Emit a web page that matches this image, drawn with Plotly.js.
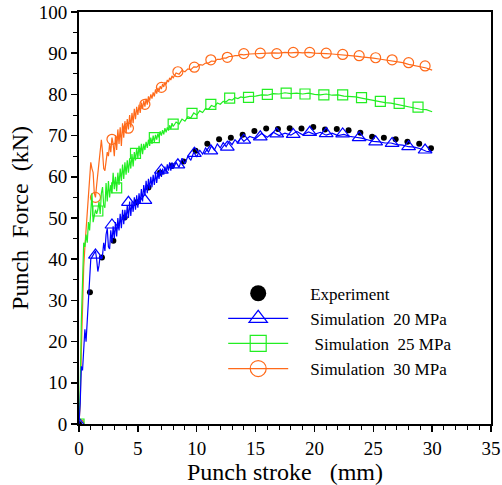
<!DOCTYPE html>
<html>
<head>
<meta charset="utf-8">
<script src="https://cdn.plot.ly/plotly-3.0.1.min.js"></script>
<style>html,body{margin:0;padding:0;background:#fff;}#chart{width:502px;height:485px;}</style>
</head>
<body>
<div id="chart"></div>
<script>
// Experiment (black dots)
var expX = [0, 0.93, 1.95, 2.92, 3.88, 4.9, 5.9, 6.88, 7.88, 8.88, 9.9, 10.9, 11.9, 12.9, 13.9, 14.9, 15.9, 16.9, 17.9, 18.9, 19.9, 20.9, 21.9, 22.9, 23.9, 24.9, 25.9, 26.9, 27.9, 28.9, 29.9];
var expY = [0, 32.0, 40.4, 44.5, 50.1, 53.8, 57.4, 61.0, 62.6, 63.7, 66.3, 68.0, 69.1, 69.5, 70.2, 71.1, 71.7, 71.6, 71.8, 71.7, 72.1, 71.5, 71.6, 71.3, 70.7, 69.7, 69.5, 69.1, 68.5, 68.0, 66.9];

// Simulation markers
var triX = [0, 1.4, 2.8, 4.2, 5.6, 7.0, 8.4, 9.8, 11.2, 12.6, 14.0, 15.4, 16.8, 18.2, 19.6, 21.0, 22.4, 23.8, 25.2, 26.6, 28.0, 29.4];
var triY = [0, 41.0, 48.3, 53.8, 54.3, 61.6, 62.9, 65.7, 66.3, 67.2, 68.9, 69.7, 70.4, 70.3, 70.8, 70.5, 70.4, 69.5, 68.5, 68.1, 67.3, 66.5];
var sqX = [0, 1.6, 3.2, 4.8, 6.4, 8.0, 9.6, 11.2, 12.8, 14.4, 16.0, 17.6, 19.2, 20.8, 22.4, 24.0, 25.6, 27.2, 28.8];
var sqY = [0, 51.7, 57.3, 65.7, 69.5, 72.8, 75.4, 77.6, 79.1, 79.3, 80.0, 80.3, 80.1, 79.9, 79.9, 79.2, 78.3, 77.8, 76.9];
var cirX = [0, 1.4, 2.8, 4.2, 5.6, 7.0, 8.4, 9.8, 11.2, 12.6, 14.0, 15.4, 16.8, 18.2, 19.6, 21.0, 22.4, 23.8, 25.2, 26.6, 28.0, 29.4];
var cirY = [0, 55.0, 69.1, 71.8, 77.6, 81.7, 85.5, 86.6, 88.4, 89.0, 89.9, 90.0, 89.9, 90.2, 90.2, 90.0, 89.7, 89.4, 88.9, 88.4, 87.7, 86.9];

// Simulation curves (shared stroke grid)
var strokeX = [0,0.1,0.2,0.3,0.4,0.5,0.6,0.7,0.8,0.9,1.0,1.1,1.2,1.3,1.4,1.5,1.6,1.7,1.8,1.9,
 2.0,2.1,2.2,2.3,2.4,2.5,2.6,2.7,2.8,2.9,3.0,3.1,3.2,3.3,3.4,3.5,3.6,3.7,3.8,3.9,
 4.0,4.1,4.2,4.3,4.4,4.5,4.6,4.7,4.8,4.9,5.0,5.1,5.2,5.3,5.4,5.5,5.6,5.7,5.8,5.9,
 6.0,6.1,6.2,6.3,6.4,6.5,6.6,6.7,6.8,6.9,7.0,7.1,7.2,7.3,7.4,7.5,7.6,7.7,7.8,7.9,8.0,
 8.25,8.5,8.75,9.0,9.25,9.5,9.75,10.0,10.25,10.5,10.75,11.0,11.25,11.5,11.75,12.0,12.25,12.5,12.75,13.0,13.25,13.5,13.75,14.0,
 14.5,15,15.5,16,16.5,17,17.5,18,18.5,19,19.5,20,20.5,21,21.5,22,22.5,23,23.5,24,24.5,25,25.5,26,26.5,27,27.5,28,28.5,29,29.5,30];
var sim20 = [0,5,14,13,18,23,20,25,31,33,40,40.5,41,41.5,42,40,37,38.5,41,40,
 41,44,42,46,47.5,43,42.5,47,44,48,45,49,45.5,50,47,51,47.5,52,48.5,52,
 49.5,53,50,54,50.5,54,51.5,55,52,55.5,52.5,56,53.5,57,54,58,55.5,59,56,59.5,
 57,60,57.5,60.5,58,61,58.5,61,59.5,62,60,62,60.5,62.5,61,63,61.5,63.5,61.5,63.5,62,
 63.5,62.3,64.5,63.2,65,64,66,64.8,66.5,65.5,67,66,67.5,66.5,68,67,68.3,67.3,68.6,67.8,69,68.2,69.5,68.6,
 69.8,69.3,70.5,69.6,70.8,70,70.6,70.1,71,70.2,70.9,70.3,70.8,70.1,70.6,70,70.3,69.8,69.6,69.4,69,68.6,68.5,68.2,68.2,67.8,67.7,67.3,67.2,66.8,66.2,66];
var sim25 = [0,8,25,36,44,43,46,44,49,47,53,56,49,51,52,51,52,54,51,56,
 57.5,53,52.5,58.5,54,59,55,58,56,61,57,60,56.5,61,58,62,59,63,59.5,63.5,
 60.5,64,61,64.5,62,65.5,62.5,66,64,67,64.5,67.5,65,68,65.5,68,66.5,68.5,67,69,
 67.5,69.5,68,70,68.5,70.2,69,70.5,69.5,71,70,71.3,70.3,71.8,70.8,72,71.2,72.5,71.6,73,72.2,
 73.3,72.8,74,73.5,74.6,74.3,75.5,75,76,75.6,76.6,76.4,77.3,77,77.9,77.6,78.3,78.2,78.8,78.6,79.2,79,79.4,79.2,
 79.5,79.6,79.9,79.8,80.2,80.1,80.4,80.2,80.3,80.1,80.3,80,79.9,80.1,79.8,79.9,79.6,79.5,79.4,79.1,78.8,78.6,78.2,78,77.9,77.6,77.3,77,76.8,76.4,76.3,75.8];
var sim30 = [0,5,18,30,38,43,47,52,54,60,63.5,62,61,56,55,58,61,64,66,69,
 66,62,61.5,64,66,65,68,66,69.5,68,65,70,66.5,71.5,68,72,67.5,73,69.5,73.5,
 70.5,74,71.5,75,72,75.5,73,76.5,74,77,75,77.5,75.5,78,76.5,78.5,77,79,77.5,79.5,
 78.5,80,79,80.5,79.5,81.2,80.2,81.6,80.8,82,81.3,82.5,81.8,83,82.4,83.5,83,84,83.5,84.5,84,
 85.2,84.9,85.8,85.5,86.2,86,86.7,86.6,87.2,87.1,87.6,87.6,88.1,88,88.5,88.5,88.8,88.8,89.2,89.2,89.4,89.4,89.7,89.6,
 89.8,89.9,90,90,90.1,90,90.2,90.1,90.2,90.1,90.2,90,90,89.9,89.8,89.7,89.6,89.4,89.3,89.1,89,88.8,88.6,88.4,88.2,87.9,87.7,87.3,87,86.7,86.4,85.9];

var legendNames = ['Experiment', 'Simulation\u00a0 20 MPa', '\u00a0Simulation\u00a0 25 MPa', 'Simulation\u00a0 30 MPa'];
var PAD = '\u00a0\u00a0\u00a0\u00a0';

var BLUE = '#0000ff', GREEN = '#22ee22', ORANGE = '#ff6a1a';
var SERIF = '"Liberation Serif", "Times New Roman", serif';

var traces = [
  {x: strokeX, y: sim30, mode: 'lines', line: {color: ORANGE, width: 1.2}, showlegend: false, hoverinfo: 'skip'},
  {x: cirX, y: cirY, mode: 'markers', marker: {symbol: 'circle-open', size: 10, color: ORANGE, line: {width: 1.2}}, showlegend: false},
  {x: strokeX, y: sim25, mode: 'lines', line: {color: GREEN, width: 1.2}, showlegend: false, hoverinfo: 'skip'},
  {x: sqX, y: sqY, mode: 'markers', marker: {symbol: 'square-open', size: 10, color: GREEN, line: {width: 1.2}}, showlegend: false},
  {x: expX, y: expY, mode: 'markers', marker: {symbol: 'circle', size: 6, color: '#000'}, showlegend: false},
  {x: strokeX, y: sim20, mode: 'lines', line: {color: BLUE, width: 1.2}, showlegend: false, hoverinfo: 'skip'},
  {x: triX, y: triY, mode: 'markers', marker: {symbol: 'triangle-up-open', size: 12, color: BLUE, line: {width: 1.2}}, showlegend: false},
  // legend entries
  {x: [null], y: [null], name: PAD + legendNames[0], mode: 'markers', marker: {symbol: 'circle', size: 16, color: '#000'}},
  {x: [null], y: [null], name: PAD + legendNames[1], mode: 'lines+markers', line: {color: BLUE, width: 1.2}, marker: {symbol: 'triangle-up-open', size: 16, color: BLUE, line: {width: 1.2}}},
  {x: [null], y: [null], name: PAD + legendNames[2], mode: 'lines+markers', line: {color: GREEN, width: 1.2}, marker: {symbol: 'square-open', size: 16, color: GREEN, line: {width: 1.2}}},
  {x: [null], y: [null], name: PAD + legendNames[3], mode: 'lines+markers', line: {color: ORANGE, width: 1.2}, marker: {symbol: 'circle-open', size: 16, color: ORANGE, line: {width: 1.2}}}
];

var axisCommon = {
  showline: true, linecolor: '#000', linewidth: 2, mirror: true,
  showgrid: false, zeroline: false,
  ticks: 'outside', ticklen: 6, tickwidth: 1.5, tickcolor: '#000',
  tickfont: {family: SERIF, size: 19, color: '#000'}
};

var layout = {
  width: 502, height: 485,
  margin: {l: 79, r: 11, t: 12, b: 61},
  paper_bgcolor: '#fff', plot_bgcolor: '#fff',
  font: {family: SERIF, color: '#000'},
  xaxis: Object.assign({}, axisCommon, {
    range: [0, 35], dtick: 5, tick0: 0,
    minor: {dtick: 1, ticks: 'outside', ticklen: 4, tickwidth: 1, tickcolor: '#000'},
    title: {text: 'Punch stroke\u00a0\u00a0 (mm)', font: {family: SERIF, size: 24, color: '#000'}, standoff: 6}
  }),
  yaxis: Object.assign({}, axisCommon, {
    range: [0, 100], dtick: 10, tick0: 0,
    minor: {dtick: 5, ticks: 'outside', ticklen: 4, tickwidth: 1, tickcolor: '#000'},
    title: {text: 'Punch\u00a0 Force\u00a0 (kN)', font: {family: SERIF, size: 24, color: '#000'}, standoff: 3}
  }),
  legend: {
    x: 0.35, y: 0.36, xanchor: 'left', yanchor: 'top',
    bgcolor: 'rgba(0,0,0,0)', borderwidth: 0,
    font: {family: SERIF, size: 17, color: '#000'},
    itemwidth: 60, tracegroupgap: 0
  },
  showlegend: true
};

Plotly.newPlot('chart', traces, layout, {displayModeBar: false, staticPlot: true});
</script>
</body>
</html>
